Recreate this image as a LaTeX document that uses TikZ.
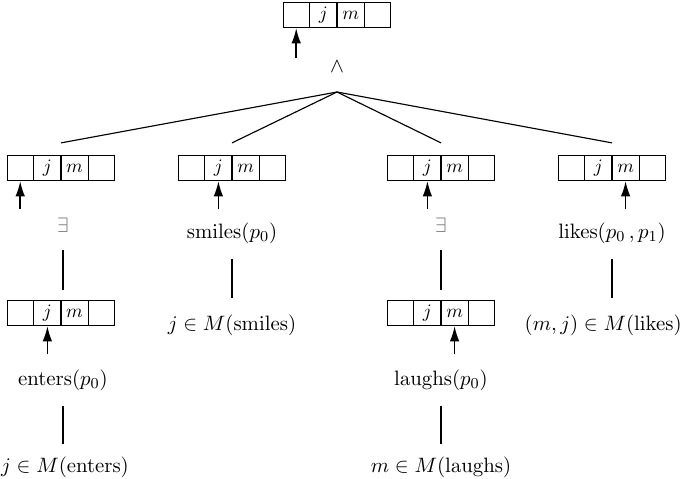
\documentclass[tikz,border=0pt]{standalone}
\usepackage{amsmath,amssymb}
\usepackage{tikz}
\usetikzlibrary{arrows.meta, shapes.multipart, calc}

\newcommand{\tcell}[1]{\parbox[c][13.2pt][c]{13.7pt}{\centering\ensuremath{#1}}}

\begin{document}
\begin{tikzpicture}[
  x=0.526pt, y=-0.526pt,
  tape/.style={rectangle split, rectangle split horizontal, rectangle split parts=4,
    draw, inner sep=0pt, line width=0.6pt},
  lbl/.style={inner sep=1pt, font=\fontsize{10.8pt}{13pt}\selectfont},
  ex/.style={lbl, text=black!55},
  ptr/.style={-{Latex[length=8pt,width=5pt]}, thick},
  ln/.style={semithick},
]
\useasboundingbox (0,0) rectangle (685,478);

% tapes
\node[tape] (top) at (337,15) {\tcell{}\nodepart{two}\tcell{j}\nodepart{three}\tcell{m}\nodepart{four}\tcell{}};
\node[tape] (t1)  at (61,168)  {\tcell{}\nodepart{two}\tcell{j}\nodepart{three}\tcell{m}\nodepart{four}\tcell{}};
\node[tape] (t1b) at (61,313)  {\tcell{}\nodepart{two}\tcell{j}\nodepart{three}\tcell{m}\nodepart{four}\tcell{}};
\node[tape] (t2)  at (232,168) {\tcell{}\nodepart{two}\tcell{j}\nodepart{three}\tcell{m}\nodepart{four}\tcell{}};
\node[tape] (t3)  at (441,168) {\tcell{}\nodepart{two}\tcell{j}\nodepart{three}\tcell{m}\nodepart{four}\tcell{}};
\node[tape] (t3b) at (441,313) {\tcell{}\nodepart{two}\tcell{j}\nodepart{three}\tcell{m}\nodepart{four}\tcell{}};
\node[tape] (t4)  at (612,168) {\tcell{}\nodepart{two}\tcell{j}\nodepart{three}\tcell{m}\nodepart{four}\tcell{}};

% labels
\node[lbl] (and)  at (337,67)  {$\wedge$};
\coordinate (apex) at (337,92);
\coordinate (ptop) at ($(top.one south)+(0,30)$);

\node[ex]  (ex1)  at (63,225)  {$\exists$};
\coordinate (p1) at ($(t1.one south)+(0,28)$);
\node[lbl] (enters)   at (63,380)  {$\mathrm{enters}(p_0)$};
\node[lbl] (inenters) at (65,467)  {$j\in M(\mathrm{enters})$};

\node[lbl] (smiles)   at (232,233) {$\mathrm{smiles}(p_0)$};
\node[lbl] (insmiles) at (232,325) {$j\in M(\mathrm{smiles})$};

\node[ex]  (ex3)  at (441,225) {$\exists$};
\coordinate (p3) at ($(t3.two south)+(0,28)$);
\node[lbl] (laughs)   at (441,380) {$\mathrm{laughs}(p_0)$};
\node[lbl] (inlaughs) at (441,467) {$m\in M(\mathrm{laughs})$};

\node[lbl] (likes)    at (612,233) {$\mathrm{likes}(p_0\,,p_1)$};
\node[lbl, anchor=east] (inlikes) at (684,325) {$(m,j)\in M(\mathrm{likes})$};

% pointers
\draw[ptr] (ptop) -- (top.one south);
\draw[ptr] (p1) -- (t1.one south);
\draw[ptr] (p3) -- (t3.two south);
\draw[ptr] (enters.north -| t1b.two south) ++(0,-13) -- (t1b.two south);
\draw[ptr] (smiles.north -| t2.two south) ++(0,-11) -- (t2.two south);
\draw[ptr] (laughs.north -| t3b.three south) ++(0,-13) -- (t3b.three south);
\draw[ptr] (likes.north -| t4.three south) ++(0,-11) -- (t4.three south);

% tree
\draw[ln] (apex) -- ($(t1.north)+(0,-12)$);
\draw[ln] (apex) -- ($(t2.north)+(0,-12)$);
\draw[ln] (apex) -- ($(t3.north)+(0,-12)$);
\draw[ln] (apex) -- ($(t4.north)+(0,-12)$);

\draw[ln] ($(ex1.south)+(0,15)$) -- ($(ex1.south |- t1b.north)+(0,-10)$);
\draw[ln] ($(ex3.south)+(0,15)$) -- ($(ex3.south |- t3b.north)+(0,-10)$);
\draw[ln] ($(smiles.south)+(0,13)$) -- ($(insmiles.north)+(0,-14)$);
\draw[ln] ($(likes.south)+(0,13)$) -- ($(likes.south |- inlikes.north)+(0,-14)$);
\draw[ln] ($(enters.south)+(0,13)$) -- ($(enters.south |- inenters.north)+(0,-10)$);
\draw[ln] ($(laughs.south)+(0,13)$) -- ($(inlaughs.north)+(0,-10)$);
\end{tikzpicture}
\end{document}
